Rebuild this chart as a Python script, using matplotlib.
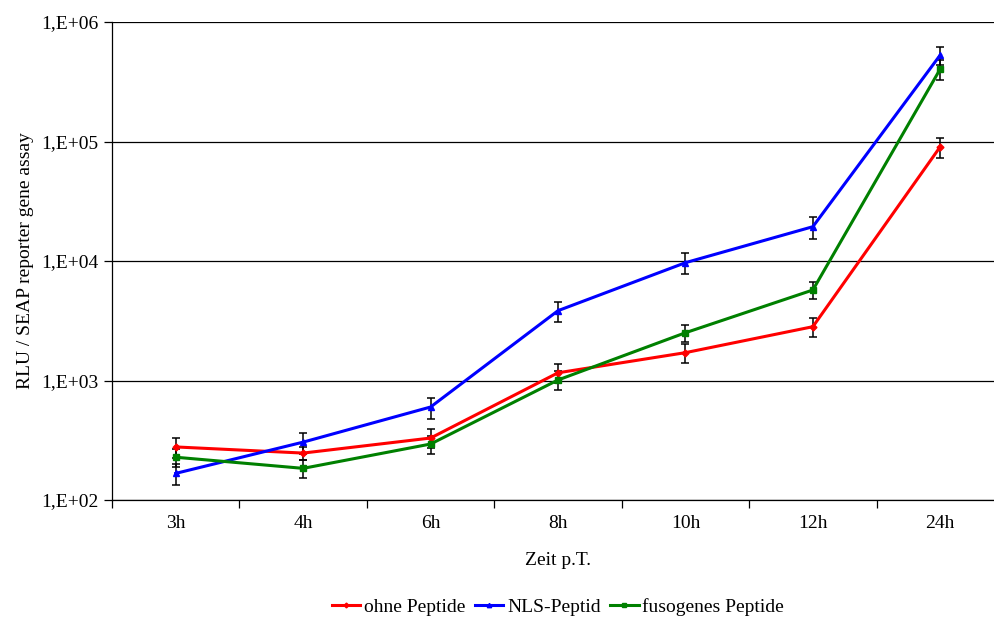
import matplotlib
matplotlib.use("Agg")
import matplotlib.pyplot as plt
from matplotlib.ticker import FixedLocator, NullLocator
from matplotlib.lines import Line2D
import numpy as np

plt.rcParams['font.family'] = ['Liberation Serif', 'DejaVu Serif']

categories = ["3h", "4h", "6h", "8h", "10h", "12h", "24h"]

ohne = [278, 247, 330, 1160, 1710, 2820, 90500]
ohne_err = [55, 30, 60, 215, 320, 500, 17500]

nls = [167, 305, 600, 3840, 9680, 19370, 530000]
nls_err = [34, 61, 120, 730, 1880, 4000, 91000]

fuso = [228, 184, 294, 1010, 2510, 5720, 405000]
fuso_err = [40, 32, 50, 180, 400, 920, 78000]

series_names = ["ohne Peptide", "NLS-Peptid", "fusogenes Peptide"]
series_colors = ["#ff0000", "#0000ff", "#008000"]
series_markers = ["D", "^", "s"]

yticks = [1e2, 1e3, 1e4, 1e5, 1e6]
ytick_labels = ["1,E+02", "1,E+03", "1,E+04", "1,E+05", "1,E+06"]

W, H = 995, 619
fig = plt.figure(figsize=(W / 100, H / 100), dpi=100)
ax = fig.add_axes([112 / W, 1 - 500 / H, (1004 - 112) / W, (500 - 22) / H])

x = np.arange(len(categories))
data = [(ohne, ohne_err), (nls, nls_err), (fuso, fuso_err)]
msizes = [3.5, 4.5, 4]
handles = []
for (vals, errs), name, col, mk, ms in zip(data, series_names, series_colors, series_markers, msizes):
    ax.errorbar(x, vals, yerr=errs, color=col, lw=2.2, marker=mk, ms=ms,
                ecolor="black", elinewidth=1.1, capsize=3.2, capthick=1.1,
                zorder=3)
    handles.append(Line2D([], [], color=col, lw=2.2, marker=mk, ms=ms * 0.7, label=name))

ax.set_yscale("log")
ax.set_ylim(1e2, 1e6)
ax.set_xlim(-0.5, len(categories) - 0.5)
ax.yaxis.set_major_locator(FixedLocator(yticks))
ax.yaxis.set_minor_locator(NullLocator())
ax.set_yticklabels(ytick_labels)
ax.grid(axis="y", color="black", lw=0.9)
ax.set_axisbelow(True)

ax.set_xticks(x)
ax.set_xticklabels(categories)
ax.set_xticks(np.arange(len(categories) + 1) - 0.5, minor=True)
ax.tick_params(axis="x", which="major", length=0, pad=11, labelsize=14)
ax.tick_params(axis="x", which="minor", length=6, width=0.9, direction="out")
ax.tick_params(axis="y", which="major", length=6, width=0.9, direction="out", labelsize=14, pad=4)

for s in ["top", "right"]:
    ax.spines[s].set_visible(False)
ax.spines["left"].set_linewidth(0.9)
ax.spines["bottom"].set_linewidth(0.9)

ax.set_xlabel("Zeit p.T.", fontsize=14, labelpad=14)
ax.set_ylabel("RLU / SEAP reporter gene assay", fontsize=14, labelpad=5)

fig.legend(handles=handles, loc="center", bbox_to_anchor=(558 / W, 1 - 607 / H), ncol=3,
           frameon=False, fontsize=14, handlelength=1.45, handletextpad=0.2,
           columnspacing=0.5)

fig.savefig("out.png", dpi=100)
